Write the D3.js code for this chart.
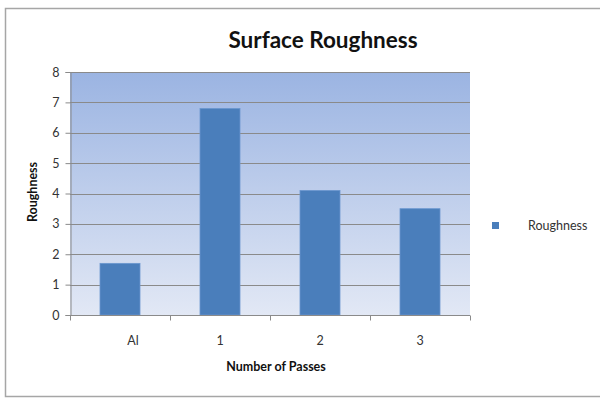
<!DOCTYPE html>
<html>
<head>
<meta charset="utf-8">
<script src="https://cdn.jsdelivr.net/npm/d3@7"></script>
<style>
  html, body { margin: 0; padding: 0; background: #fff; }
  svg { display: block; font-family: Lato, "Open Sans", "Liberation Sans", sans-serif; }
</style>
</head>
<body>
<svg id="chart" width="600" height="399"></svg>
<script>
// Chart data
const categories = ["Al", "1", "2", "3"];
const roughness = [1.7, 6.8, 4.1, 3.5];
const yTicks = [0, 1, 2, 3, 4, 5, 6, 7, 8];
const seriesName = "Roughness";

const svg = d3.select("#chart");
const plot = { left: 70, right: 470, top: 72, bottom: 315 };

// Outer chart frame
svg.append("rect")
  .attr("x", 5.5).attr("y", 8.5)
  .attr("width", 610).attr("height", 388)
  .attr("fill", "#fff")
  .attr("stroke", "#a6a6a6")
  .attr("stroke-width", 1.5);

// Plot-area gradient
const defs = svg.append("defs");
const grad = defs.append("linearGradient")
  .attr("id", "plotBg").attr("x1", 0).attr("y1", 0).attr("x2", 0).attr("y2", 1);
grad.append("stop").attr("offset", "0%").attr("stop-color", "#9bb4e2");
grad.append("stop").attr("offset", "100%").attr("stop-color", "#e2e8f5");

const x = d3.scaleBand()
  .domain(categories)
  .range([plot.left, plot.right])
  .paddingInner(0.6)
  .paddingOuter(0.3);

const y = d3.scaleLinear()
  .domain([0, 8])
  .range([plot.bottom, plot.top]);

svg.append("rect")
  .attr("x", plot.left).attr("y", plot.top)
  .attr("width", plot.right - plot.left)
  .attr("height", plot.bottom - plot.top)
  .attr("fill", "url(#plotBg)");

// Horizontal gridlines
svg.append("g")
  .selectAll("line")
  .data(yTicks.filter(d => d > 0))
  .join("line")
  .attr("x1", plot.left).attr("x2", plot.right)
  .attr("y1", d => Math.round(y(d)) + 0.5)
  .attr("y2", d => Math.round(y(d)) + 0.5)
  .attr("stroke", "#8a8a8a")
  .attr("stroke-width", 1);

// Bars
svg.append("g")
  .selectAll("rect")
  .data(roughness)
  .join("rect")
  .attr("x", (d, i) => x(categories[i]))
  .attr("y", d => y(d))
  .attr("width", x.bandwidth())
  .attr("height", d => y(0) - y(d))
  .attr("fill", "#4a7ebb")
  .attr("stroke", "#6b97cf")
  .attr("stroke-width", 0.8);

// Y axis
const yAxis = svg.append("g")
  .attr("transform", `translate(${plot.left + 0.5},0)`)
  .call(d3.axisLeft(y).tickValues(yTicks).tickSize(5).tickPadding(6).tickFormat(d3.format("d")));
yAxis.select(".domain").attr("stroke", "#8a8a8a");
yAxis.selectAll(".tick line").attr("stroke", "#8a8a8a");
yAxis.selectAll(".tick text")
  .attr("fill", "#333").attr("font-size", 12.5)
  .style("font-family", "Lato, 'Open Sans', sans-serif");

// X axis with boundary ticks between categories
const xAxisG = svg.append("g")
  .attr("transform", `translate(0,${plot.bottom + 0.5})`);
xAxisG.append("line")
  .attr("x1", plot.left).attr("x2", plot.right)
  .attr("stroke", "#8a8a8a");
const boundaries = d3.range(categories.length + 1).map(i => plot.left + i * x.step());
xAxisG.selectAll("line.tk")
  .data(boundaries)
  .join("line")
  .attr("class", "tk")
  .attr("x1", d => Math.round(d) + 0.5).attr("x2", d => Math.round(d) + 0.5)
  .attr("y1", 0).attr("y2", 5)
  .attr("stroke", "#8a8a8a");
xAxisG.selectAll("text")
  .data(categories)
  .join("text")
  .attr("x", d => x(d) + x.bandwidth() / 2)
  .attr("dx", (d, i) => i === 0 ? 13 : 0)
  .attr("y", 29)
  .attr("text-anchor", "middle")
  .attr("fill", "#333")
  .attr("font-size", 12.5)
  .text(d => d);

// Title
svg.append("text")
  .attr("x", 323).attr("y", 48)
  .attr("text-anchor", "middle")
  .attr("font-size", 22.5)
  .attr("font-weight", "bold")
  .attr("fill", "#111")
  .text("Surface Roughness");

// Axis titles
svg.append("text")
  .attr("x", 276).attr("y", 371)
  .attr("text-anchor", "middle")
  .attr("font-size", 12.5)
  .attr("font-weight", "bold")
  .attr("fill", "#111")
  .text("Number of Passes");

svg.append("text")
  .attr("transform", "translate(37,192) rotate(-90)")
  .attr("text-anchor", "middle")
  .attr("font-size", 12.5)
  .attr("font-weight", "bold")
  .attr("fill", "#111")
  .text("Roughness");

// Legend
const legend = svg.append("g").attr("transform", "translate(492,222)");
legend.append("rect")
  .attr("width", 7).attr("height", 7)
  .attr("fill", "#4a7ebb");
legend.append("text")
  .attr("x", 36).attr("y", 8)
  .attr("font-size", 12.5)
  .attr("fill", "#333")
  .text(seriesName);
</script>
</body>
</html>
